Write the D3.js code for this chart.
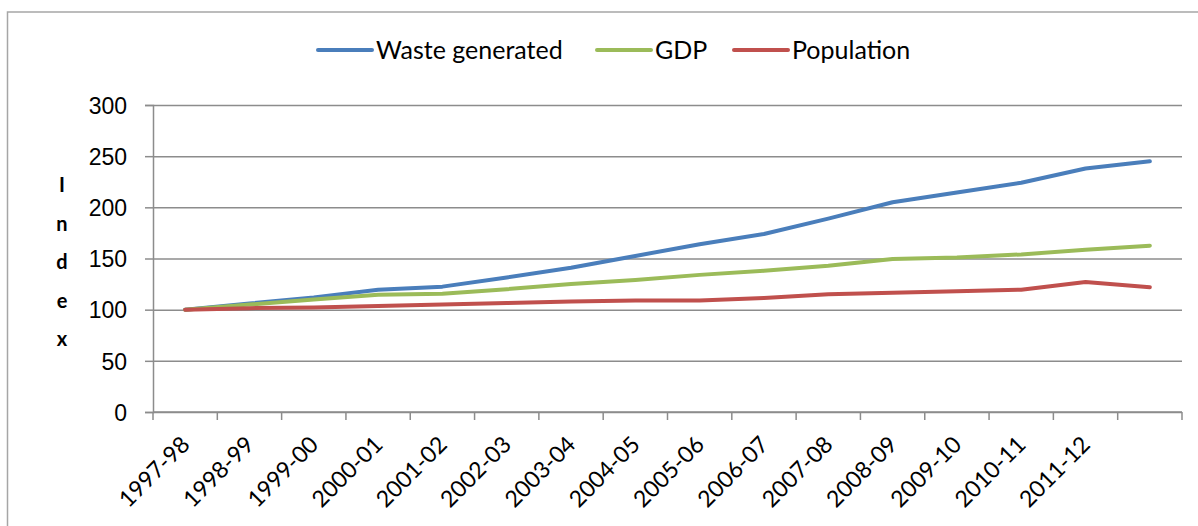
<!DOCTYPE html>
<html>
<head>
<meta charset="utf-8">
<script src="https://cdn.jsdelivr.net/npm/d3@7"></script>
<style>
  html, body { margin: 0; padding: 0; background: #fff; }
  svg { display: block; font-family: Lato, 'Open Sans', sans-serif; }
</style>
</head>
<body>
<svg id="chart"></svg>
<script>
// Index values (1997-98 = 100)
const years = ['1997-98', '1998-99', '1999-00', '2000-01', '2001-02', '2002-03', '2003-04',
  '2004-05', '2005-06', '2006-07', '2007-08', '2008-09', '2009-10', '2010-11', '2011-12', ''];
const waste = [100, 106, 112, 119.5, 122.5, 131.5, 141, 152.5, 164, 174, 189, 205, 214.5, 224, 238, 245];
const gdp = [100, 105, 110, 114.5, 115.5, 120, 125, 129, 134, 138, 143, 149.5, 151, 154, 158.5, 162.5];
const population = [100, 101.5, 102, 103.5, 105, 106.5, 108, 109, 109, 111.5, 115, 116.5, 118, 119.5, 127, 122];
const yTicks = [0, 50, 100, 150, 200, 250, 300];

const seriesNames = ['Waste generated', 'GDP', 'Population'];
const seriesColors = ['#4a7ebb', '#9bbb59', '#c0504d'];
const seriesData = [waste, gdp, population];

const width = 1198, height = 526;
const marginLeft = 153, marginRight = 16, marginTop = 105, marginBottom = 114;
const gridColor = '#8c8c8c';

const svg = d3.select('#chart')
  .attr('width', width)
  .attr('height', height)
  .attr('viewBox', [0, 0, width, height]);

// chart border (right and bottom fall outside the picture)
svg.append('rect')
  .attr('x', 7.5).attr('y', 12)
  .attr('width', width + 10).attr('height', height + 10)
  .attr('fill', 'none')
  .attr('stroke', '#a6a6a6')
  .attr('stroke-width', 1.5);

const xScale = d3.scaleBand(d3.range(years.length), [marginLeft, width - marginRight]);
const yScale = d3.scaleLinear([0, 300], [height - marginBottom, marginTop]);

// Y axis + gridlines
svg.append('g')
  .attr('transform', `translate(${marginLeft},0)`)
  .call(d3.axisLeft(yScale).tickValues(yTicks).tickSize(8).tickPadding(18))
  .call(g => g.select('.domain').attr('stroke', gridColor).attr('stroke-width', 1.5))
  .call(g => g.selectAll('.tick line').attr('stroke', gridColor).attr('stroke-width', 1.5))
  .call(g => g.selectAll('.tick').append('line')
    .attr('x2', width - marginRight - marginLeft)
    .attr('stroke', gridColor)
    .attr('stroke-width', 1.5))
  .call(g => g.selectAll('.tick text')
    .attr('fill', '#000')
    .style('font-size', '23px')
    .attr('dy', '0.36em'));

// X axis: ticks on category boundaries
const xAxisY = yScale(0);
const bounds = d3.range(years.length + 1).map(i => marginLeft + i * xScale.step());
const xg = svg.append('g');
xg.append('line')
  .attr('x1', marginLeft).attr('x2', width - marginRight)
  .attr('y1', xAxisY).attr('y2', xAxisY)
  .attr('stroke', gridColor).attr('stroke-width', 1.5);
xg.selectAll('line.tk')
  .data(bounds)
  .join('line')
  .attr('class', 'tk')
  .attr('x1', d => d).attr('x2', d => d)
  .attr('y1', xAxisY).attr('y2', xAxisY + 8)
  .attr('stroke', gridColor).attr('stroke-width', 1.5);
xg.selectAll('text')
  .data(years)
  .join('text')
  .attr('transform', (d, i) => `translate(${xScale(i) + xScale.bandwidth() / 2 + 6},${xAxisY + 34}) rotate(-45)`)
  .attr('text-anchor', 'end')
  .style('font-size', '23px')
  .attr('fill', '#000')
  .text(d => d);

// Y axis title, letters stacked
svg.append('g')
  .selectAll('text')
  .data('Index'.split(''))
  .join('text')
  .attr('x', 62)
  .attr('y', (d, i) => 192 + i * 38.5)
  .attr('text-anchor', 'middle')
  .style('font-size', '20px')
  .style('font-weight', 'bold')
  .text(d => d);

// Lines
const line = d3.line()
  .x((d, i) => xScale(i) + xScale.bandwidth() / 2)
  .y(d => yScale(d));

svg.append('g')
  .selectAll('path')
  .data(seriesData)
  .join('path')
  .attr('d', line)
  .attr('fill', 'none')
  .attr('stroke', (d, i) => seriesColors[i])
  .attr('stroke-width', 4)
  .attr('stroke-linejoin', 'round')
  .attr('stroke-linecap', 'round');

// Legend
const legendX = [318, 597, 734];
const legend = svg.append('g')
  .selectAll('g')
  .data(seriesNames)
  .join('g')
  .attr('transform', (d, i) => `translate(${legendX[i]},50)`);
legend.append('line')
  .attr('x2', 54)
  .attr('stroke', (d, i) => seriesColors[i])
  .attr('stroke-width', 4)
  .attr('stroke-linecap', 'round');
legend.append('text')
  .attr('x', 58)
  .attr('dy', '0.36em')
  .style('font-size', '25px')
  .text(d => d);
</script>
</body>
</html>
